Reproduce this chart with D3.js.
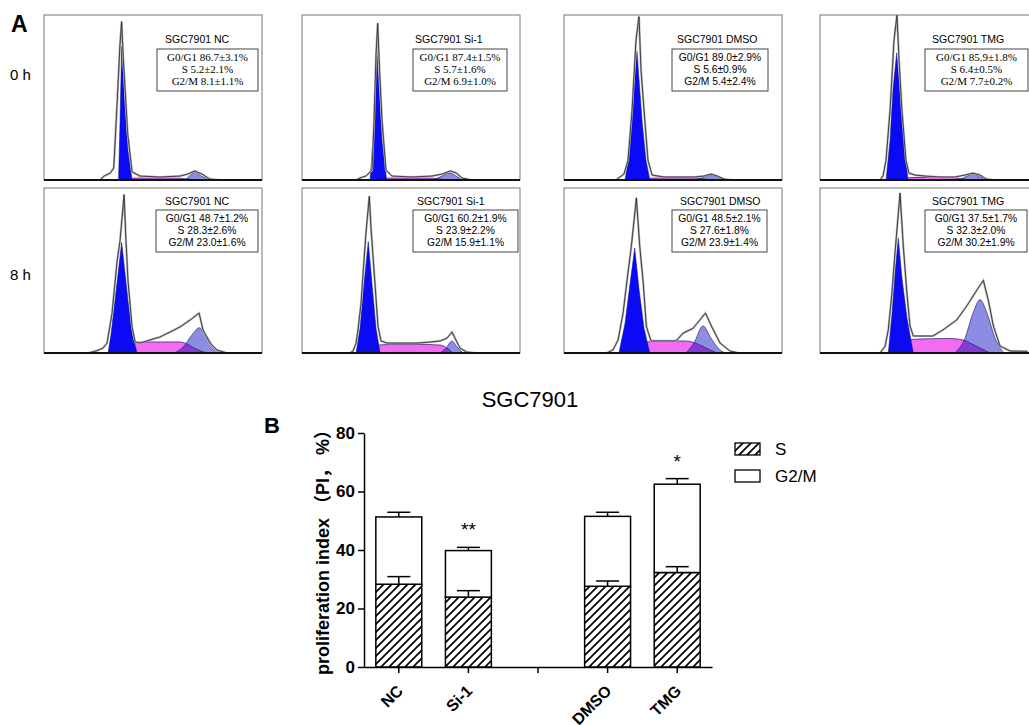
<!DOCTYPE html>
<html>
<head>
<meta charset="utf-8">
<title>SGC7901 cell cycle</title>
<script src="https://cdn.jsdelivr.net/npm/d3@7"></script>
<style>
body { margin: 0; background: #fff; }
text { font-family: Arial, "Liberation Sans", "Noto Sans CJK SC", sans-serif; }
</style>
</head>
<body>
<svg width="1029" height="725"></svg>
<script>

// groups, time points
var groups = ["NC", "Si-1", "DMSO", "TMG"];
var times = ["0 h", "8 h"];

// cell cycle distribution (%), mean and sd
var g1Mean0 = [86.7, 87.4, 89.0, 85.9], g1Sd0 = [3.1, 1.5, 2.9, 1.8];
var sMean0  = [5.2, 5.7, 5.6, 6.4],     sSd0  = [2.1, 1.6, 0.9, 0.5];
var g2Mean0 = [8.1, 6.9, 5.4, 7.7],     g2Sd0 = [1.1, 1.0, 2.4, 0.2];
var g1Mean8 = [48.7, 60.2, 48.5, 37.5], g1Sd8 = [1.2, 1.9, 2.1, 1.7];
var sMean8  = [28.3, 23.9, 27.6, 32.3], sSd8  = [2.6, 2.2, 1.8, 2.0];
var g2Mean8 = [23.0, 15.9, 23.9, 30.2], g2Sd8 = [1.6, 1.1, 1.4, 1.9];

// histograms: [channel, % of full scale]
var raw0 = [
  [[64,0],[69,2.4],[76,4.2],[80,7.3],[84,48],[87,81],[89,96],[91,73],[96,28],[101,5],[110,2.4],[133,1.8],[156,2.4],[165,3.6],[173,5.5],[181,3.6],[190,0.6],[202,0]],
  [[62,0],[66.5,1.2],[73.4,2.4],[80.3,6],[82.6,36],[84.9,76],[86.8,95],[88.9,67],[91.8,36],[96.3,6],[103,2.4],[126,1.8],[149,2.4],[161,3.6],[170,5.5],[177,4.2],[183.5,1.2],[195,0]],
  [[59.6,0],[64.2,1.8],[68.8,3.6],[73.4,12],[78,42],[82.6,85],[86,99],[88.3,67],[91.8,42],[96.3,12],[101,3],[114.7,1.8],[149,1.8],[160.6,2.4],[168.6,3.6],[175.5,2.4],[183.5,0.6],[192.7,0]],
  [[68.8,0],[72.3,2.4],[75.7,12],[80.3,42],[84.9,85],[88.3,100],[90.6,73],[94,42],[98.6,12],[102,4.2],[109,3],[120.4,2.4],[137.6,1.8],[154.8,1.8],[166.3,3],[175.5,4.2],[183.5,3],[190.4,0.6],[200.7,0]]
];
var g1Fit0 = [
  [[85.5,0],[87.2,36],[89.1,81],[92.3,48],[96.3,18],[101,0]],
  [[78,0],[82.6,33],[85.7,81],[88.3,55],[91.8,24],[97.1,0]],
  [[70,0],[74.6,15],[77.3,36],[83.7,78],[89.5,36],[94,12],[98.6,0]],
  [[75.7,0],[80.3,24],[83.7,55],[87.9,77],[91.8,52],[96.3,24],[101,0]]
];
var sFit0 = [
  [[96,0],[104,1.2],[150,1.2],[165,0.6],[175,0]],
  [[92,0],[100,1.2],[145,1.2],[158,0.6],[168,0]],
  [[94,0],[102,1.2],[148,1.2],[160,0.6],[170,0]],
  [[96,0],[104,1.5],[150,1.5],[165,0.6],[175,0]]
];
var g2Fit0 = [
  [[162,0],[168,3],[173,4.8],[180,2.5],[190,0]],
  [[150,0],[160.6,2.4],[169.8,4.2],[176.6,2.4],[183.5,0]],
  [[151,0],[160.6,1.8],[168.6,3],[176.6,1.8],[185.8,0]],
  [[160.6,0],[168.6,2.4],[175.5,3.6],[183.5,1.8],[190.4,0]]
];
var raw8 = [
  [[50.5,0],[60.8,1.4],[67.7,3],[72.3,6],[78,24],[83.7,55],[87.2,68],[91.8,96],[94,68],[96.3,44],[101,16],[104.4,6.7],[110,6],[121.6,7.9],[133,9.7],[144.5,12.7],[156,15.8],[167.5,20],[177.8,24.2],[182.4,14],[190.4,6],[198.4,1.8],[210,0]],
  [[55,0],[58.5,1.2],[62,6],[64.2,14],[67.7,30],[70,48],[73.4,73],[77.2,95],[79.1,76],[81.8,56],[84.9,33],[87.2,16],[90.6,7.3],[97.5,6],[114.7,6],[132,6],[149,6.7],[158.3,7.3],[166.3,9],[172,12.7],[175.5,9],[181,3],[189,0.6],[200.7,0]],
  [[48.6,0],[56.2,1.8],[62,7.9],[67.7,24],[72.3,44],[77.3,65],[83,94],[86.8,65],[90.6,44],[94.5,16],[99.8,7.3],[105.5,7.3],[128.5,7.3],[136.5,12],[148,15],[162.2,24.2],[169,16.4],[179,6],[190.4,1.2],[200.7,0]],
  [[68.8,0],[74.6,4],[78.3,14],[82.2,34.5],[86,60.6],[91.8,97],[95.5,65],[99.4,38],[103.2,16.4],[107,10.3],[111.3,10.3],[129.6,10.3],[141,14],[156.8,20],[168.3,28.5],[179.7,38],[187.3,44],[193,32],[198.8,16.4],[206.5,4.2],[218,1.2],[238,1]]
];
var g1Fit8 = [
  [[73.4,0],[76.8,11],[81.4,32],[89.1,67],[96.3,32],[101,12],[106.7,0]],
  [[62,0],[66.5,15],[71.1,42],[76,67.6],[80.3,42],[84.9,15],[89.5,0]],
  [[63,0],[70,18],[75.7,42],[81.1,63.6],[86,39],[91.8,15],[98.3,0]],
  [[78.3,0],[82.6,24],[86,48.5],[89.8,69.7],[94,45.5],[99.8,21],[107,0]]
];
var sFit8 = [
  [[78,0],[89.5,3.6],[101,6],[114.7,6.7],[137.6,6.7],[154.8,6.7],[164,5.5],[172,3],[180,1.2],[187,0]],
  [[66.5,0],[75.7,2.4],[87.2,4.8],[103,5.2],[137.6,5.2],[158.3,4.8],[166.3,3],[173.2,0]],
  [[71.1,0],[82.6,3.6],[94,6.7],[114.7,7.3],[137.6,7.3],[146.8,6.7],[158.3,4.2],[167.5,1.8],[175.5,0]],
  [[78,0],[89.5,3.6],[101,7.9],[114.7,8.5],[149,8.8],[164,7.9],[174.3,5.5],[185.8,2.4],[195,0]]
];
var g2Fit8 = [
  [[150,0],[160.6,4.2],[169.8,11],[177.8,15.3],[185.8,11],[195,3.6],[204,0]],
  [[158.3,0],[165.2,3],[172,7.3],[177.8,3.6],[184.7,0]],
  [[140,0],[149,6],[159.4,16.4],[168.6,9],[176.6,3],[184.7,0]],
  [[154.8,0],[166.3,9],[175.5,24.2],[183.5,32.3],[191.5,24.2],[200.7,9],[211,0]]
];

// bar chart (B)
var barCats = ["NC", "Si-1", "", "DMSO", "TMG"];
var barSig = ["", "**", "", "*"];
var yTicks = [0, 20, 40, 60, 80];

var svg = d3.select("svg");
var fmt = d3.format(".1f");

// ---------- panel A ----------
var pw = 218, ph = 165;
var colX = [44, 302, 564, 820], rowY = [15, 188];
var boxL = [[113, 111, 108, 105], [112, 111, 108, 105]];
var boxR = [[214, 205, 204, 208], [214, 216, 203, 207]];
var titleX = [[121, 113, 113, 112], [121, 115, 116, 112]];
var boxTop = [34, 22], titleY = [28, 17];
var serifBox = [[true, true, false, true], [false, false, false, false]];

var x = d3.scaleLinear().domain([0, 250]).range([0, pw]);
var y = d3.scaleLinear().domain([0, 100]).range([ph, 0]);
var area = d3.area().x(function(d) { return x(d[0]); }).y0(ph).y1(function(d) { return y(d[1]); }).curve(d3.curveMonotoneX);
var peakArea = d3.area().x(function(d) { return x(d[0]); }).y0(ph).y1(function(d) { return y(d[1]); });
var fit = d3.line().x(function(d) { return x(d[0]); }).y(function(d) { return y(d[1]); }).curve(d3.curveMonotoneX);
var rawL = d3.line().x(function(d) { return x(d[0]); }).y(function(d) { return y(d[1]); });

var rows = [
  {raw: raw0, g1: g1Fit0, s: sFit0, g2: g2Fit0, st: [g1Mean0, g1Sd0, sMean0, sSd0, g2Mean0, g2Sd0]},
  {raw: raw8, g1: g1Fit8, s: sFit8, g2: g2Fit8, st: [g1Mean8, g1Sd8, sMean8, sSd8, g2Mean8, g2Sd8]}
];

svg.append("text").attr("x", 11).attr("y", 32).style("font-size", "23px").style("font-weight", "bold").text("A");

rows.forEach(function(row, r) {
  svg.append("text").attr("x", 10).attr("y", r ? 280 : 80).style("font-size", "15px").text(times[r]);

  groups.forEach(function(g, c) {
    var p = svg.append("g").attr("transform", "translate(" + colX[c] + "," + rowY[r] + ")");
    var cid = "clip" + r + c;
    p.append("clipPath").attr("id", cid).append("rect").attr("width", pw).attr("height", ph);
    var plot = p.append("g").attr("clip-path", "url(#" + cid + ")");

    plot.append("path").attr("d", area(row.s[c])).attr("fill", "#f26bf2");
    plot.append("path").attr("d", peakArea(row.g1[c])).attr("fill", "#0a0af5")
      .attr("stroke", "#10107a").attr("stroke-width", 0.5);
    plot.append("path").attr("d", area(row.g2[c])).attr("fill", "#8c8ce2").style("mix-blend-mode", "multiply");
    plot.append("path").attr("d", fit(row.s[c])).attr("fill", "none").attr("stroke", "#1b1b70").attr("stroke-width", 0.7);
    plot.append("path").attr("d", fit(row.g2[c])).attr("fill", "none").attr("stroke", "#2a2a80").attr("stroke-width", 0.7);
    plot.append("path").attr("d", rawL(row.raw[c])).attr("fill", "none").attr("stroke", "#b5b5b5").attr("stroke-width", 2.2);
    plot.append("path").attr("d", rawL(row.raw[c])).attr("fill", "none").attr("stroke", "#222").attr("stroke-width", 0.8);

    p.append("rect").attr("width", pw).attr("height", ph).attr("fill", "none").attr("stroke", "#777").attr("stroke-width", 1);
    p.append("line").attr("x1", 0).attr("x2", pw).attr("y1", ph).attr("y2", ph).attr("stroke", "#111").attr("stroke-width", 2);

    p.append("text").attr("x", titleX[r][c]).attr("y", titleY[r]).style("font-size", "10.5px").text("SGC7901 " + g);

    var bl = boxL[r][c], bw = boxR[r][c] - bl, bt = boxTop[r];
    p.append("rect").attr("x", bl).attr("y", bt).attr("width", bw).attr("height", 42)
      .attr("fill", "#fff").attr("stroke", "#444").attr("stroke-width", 1);
    var st = row.st;
    var lines = [
      "G0/G1 " + fmt(st[0][c]) + "±" + fmt(st[1][c]) + "%",
      "S " + fmt(st[2][c]) + "±" + fmt(st[3][c]) + "%",
      "G2/M " + fmt(st[4][c]) + "±" + fmt(st[5][c]) + "%"
    ];
    var serif = serifBox[r][c];
    p.selectAll(null).data(lines).enter().append("text")
      .attr("x", bl + bw / 2)
      .attr("y", function(d, i) { return bt + 12 + i * 12; })
      .attr("text-anchor", "middle")
      .style("font-family", serif ? "'Liberation Serif', 'Times New Roman', serif" : null)
      .style("font-size", serif ? "11px" : "10.3px")
      .text(function(d) { return d; });
  });
});

// ---------- panel B ----------
var defs = svg.append("defs");
var pat = defs.append("pattern").attr("id", "hatch").attr("patternUnits", "userSpaceOnUse")
  .attr("width", 8).attr("height", 8);
pat.append("rect").attr("width", 8).attr("height", 8).attr("fill", "#fff");
pat.append("path").attr("d", "M-2,2 L2,-2 M0,8 L8,0 M6,10 L10,6").attr("stroke", "#000").attr("stroke-width", 1.7);

var xB = d3.scaleBand().domain(barCats).range([364, 712]).paddingInner(0.34).paddingOuter(0.17);
var yB = d3.scaleLinear().domain([0, 80]).range([667, 433]);

svg.append("text").attr("x", 264).attr("y", 433).style("font-size", "22px").style("font-weight", "bold").text("B");
svg.append("text").attr("x", 530).attr("y", 407).attr("text-anchor", "middle").style("font-size", "22px").text("SGC7901");

var barData = groups.map(function(g, i) {
  return {cat: g, s: sMean8[i], g2: g2Mean8[i], sSd: sSd8[i], g2Sd: g2Sd8[i], sig: barSig[i]};
});
var stack = d3.stack().keys(["s", "g2"])(barData);

var bars = svg.append("g");
stack.forEach(function(layer) {
  bars.selectAll(null).data(layer).enter().append("rect")
    .attr("x", function(d) { return xB(d.data.cat); })
    .attr("width", xB.bandwidth())
    .attr("y", function(d) { return yB(d[1]); })
    .attr("height", function(d) { return yB(d[0]) - yB(d[1]); })
    .attr("fill", layer.key === "s" ? "url(#hatch)" : "#fff")
    .attr("stroke", "#000").attr("stroke-width", 1.5);
});

// error bars (upper only)
var capW = 23;
stack.forEach(function(layer) {
  layer.forEach(function(d) {
    var cx = xB(d.data.cat) + xB.bandwidth() / 2;
    var sd = layer.key === "s" ? d.data.sSd : d.data.g2Sd;
    var top = yB(d[1] + sd);
    bars.append("line").attr("x1", cx).attr("x2", cx).attr("y1", yB(d[1])).attr("y2", top)
      .attr("stroke", "#000").attr("stroke-width", 1.5);
    bars.append("line").attr("x1", cx - capW / 2).attr("x2", cx + capW / 2).attr("y1", top).attr("y2", top)
      .attr("stroke", "#000").attr("stroke-width", 1.5);
  });
});

// significance marks
bars.selectAll(null).data(barData.filter(function(d) { return d.sig; })).enter().append("text")
  .attr("x", function(d) { return xB(d.cat) + xB.bandwidth() / 2; })
  .attr("y", function(d) { return yB(d.s + d.g2 + d.g2Sd) - 11; })
  .attr("text-anchor", "middle").style("font-size", "19px")
  .text(function(d) { return d.sig; });

// axes
var yAxis = svg.append("g").attr("transform", "translate(364,0)")
  .call(d3.axisLeft(yB).tickValues(yTicks).tickSize(6).tickSizeOuter(0).tickPadding(3));
yAxis.selectAll("text").style("font-size", "17px").style("font-weight", "bold").attr("font-family", null);
yAxis.selectAll("line, path").attr("stroke", "#000").attr("stroke-width", 1.5);

var xAxis = svg.append("g").attr("transform", "translate(0,667)")
  .call(d3.axisBottom(xB).tickSize(6).tickSizeOuter(0).tickFormat(""));
xAxis.selectAll("line, path").attr("stroke", "#000").attr("stroke-width", 1.5);

svg.append("g").selectAll("text").data(barCats.filter(function(d) { return d; })).enter().append("text")
  .attr("transform", function(d) { return "translate(" + (xB(d) + xB.bandwidth() / 2 + 5) + ",692) rotate(-45)"; })
  .attr("text-anchor", "end").style("font-size", "16px").style("font-weight", "bold")
  .text(function(d) { return d; });

svg.append("text").attr("transform", "translate(329,548) rotate(-90)").attr("text-anchor", "middle")
  .style("font-size", "18px").style("font-weight", "bold").text("proliferation index （PI， %）");

// legend
var legend = [{name: "S", fill: "url(#hatch)"}, {name: "G2/M", fill: "#fff"}];
var lg = svg.append("g").selectAll("g").data(legend).enter().append("g")
  .attr("transform", function(d, i) { return "translate(735," + (443 + i * 27) + ")"; });
lg.append("rect").attr("width", 25).attr("height", 12).attr("fill", function(d) { return d.fill; })
  .attr("stroke", "#000").attr("stroke-width", 1.3);
lg.append("text").attr("x", 40).attr("y", 12).style("font-size", "17px").text(function(d) { return d.name; });

</script>
</body>
</html>
